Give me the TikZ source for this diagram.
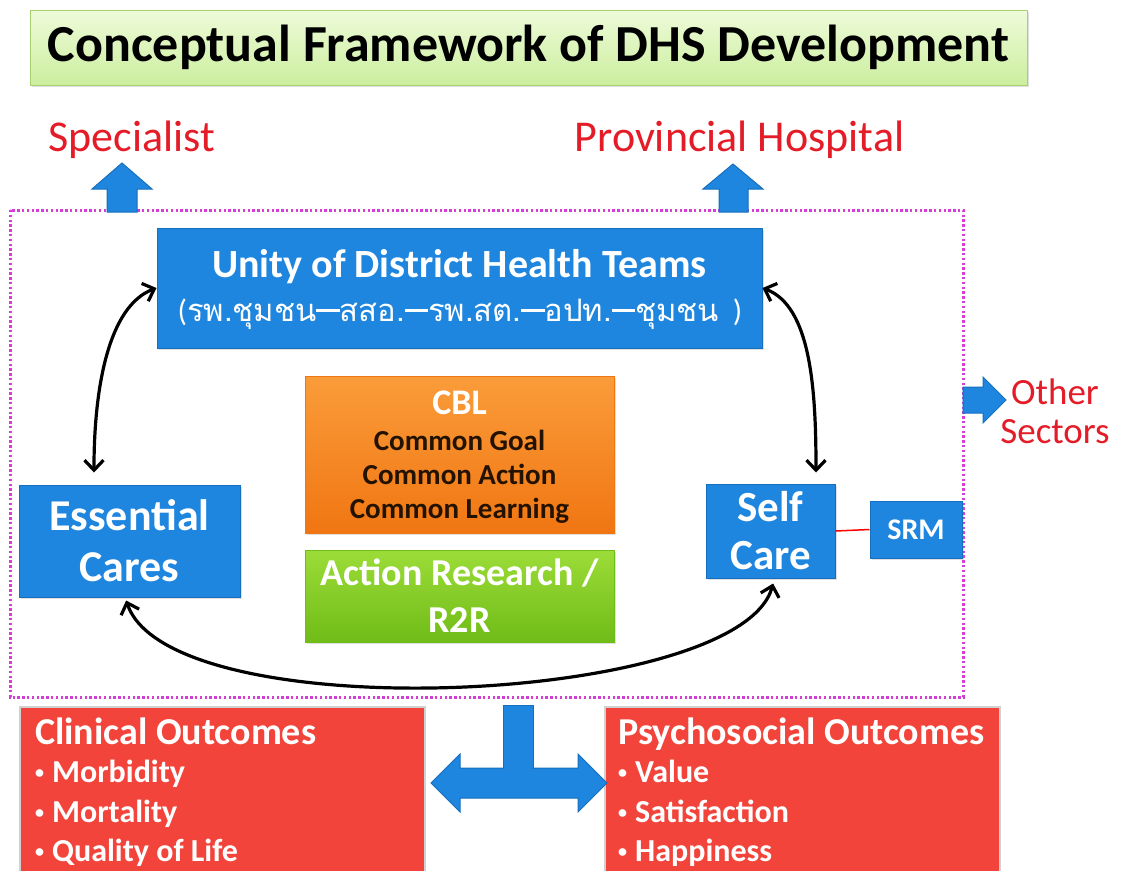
\documentclass[tikz,border=0pt]{standalone}
\usepackage{fontspec}
\setmainfont{Carlito}
\newfontfamily\thaifont[Script=Thai]{Loma}
\usetikzlibrary{arrows.meta,shadows,calc}

\definecolor{boxblue}{RGB}{30,134,222}
\definecolor{edgeblue}{RGB}{22,110,190}
\definecolor{outred}{RGB}{242,68,58}
\definecolor{labelred}{RGB}{228,28,40}
\definecolor{framemag}{RGB}{214,60,214}
\definecolor{titletop}{RGB}{238,251,218}
\definecolor{titlebot}{RGB}{204,238,158}
\definecolor{titleedge}{RGB}{168,208,110}
\definecolor{cbltop}{RGB}{250,156,58}
\definecolor{cblbot}{RGB}{240,118,18}
\definecolor{artop}{RGB}{156,220,56}
\definecolor{arbot}{RGB}{112,188,24}
\definecolor{cbltext}{RGB}{35,18,0}

\newcommand{\fs}[1]{\fontsize{#1}{1.2\dimexpr#1pt\relax}\selectfont}
% small list bullet
\newcommand{\blt}{\raisebox{0.12em}{\fontsize{18}{18}\selectfont\textbullet}\hspace{8pt}}
% long bar between Thai units
\newcommand{\thbar}{\rule[0.3em]{0.75em}{2.6pt}}

\tikzset{
  bluebox/.style={draw=edgeblue, line width=1pt, fill=boxblue, text=white,
    font=\bfseries, align=center, inner sep=0pt,
    drop shadow={opacity=0.25, shadow xshift=2pt, shadow yshift=-2pt}},
  outbox/.style={draw=black!18, line width=2pt, fill=outred, inner sep=0pt},
  blockarrow/.style={fill=boxblue, draw=edgeblue, line width=1pt},
  conn/.style={line width=3.2pt, {Straight Barb[length=10pt,width=19pt,line width=3.2pt]}-{Straight Barb[length=10pt,width=19pt,line width=3.2pt]}},
  redlabel/.style={text=labelred, font=\fs{44}, inner sep=0pt},
  outtitle/.style={text=white, font=\bfseries\fs{38}, anchor=base west, inner sep=0pt},
  outlist/.style={text=white, font=\bfseries\fontsize{32}{39.5}\selectfont, anchor=north west, align=left, inner sep=0pt}
}

\begin{document}
\begin{tikzpicture}[x=1pt, y=-1pt]
\useasboundingbox (0,0) rectangle (1135,870);

% title banner
\node[draw=titleedge, line width=1pt, top color=titletop, bottom color=titlebot,
      minimum width=997pt, minimum height=75pt, inner sep=0pt,
      drop shadow={opacity=0.25, shadow xshift=2pt, shadow yshift=-2pt},
      font=\bfseries\fs{52}] (title) at (528.5,47.5)
      {Conceptual Framework of DHS Development};

% outer labels
\node[redlabel] (spec) at (132,140) {Specialist};
\node[redlabel] (prov) at (739.5,140) {Provincial Hospital};
\node[redlabel, font=\fs{37}, align=center] (other) at (1055,411)
      {Other\\[-5pt]Sectors};

% district boundary
\draw[framemag, line width=3pt, dash pattern=on 2.4pt off 2.4pt] (10,210) rectangle (963,697);

% block arrows leaving the district
\draw[blockarrow] (122,163) -- (152,189) -- (137,189) -- (137,212) -- (107,212)
      -- (107,189) -- (92,189) -- cycle;
\draw[blockarrow] (733,164) -- (763,189) -- (748,189) -- (748,212) -- (719,212)
      -- (719,189) -- (703,189) -- cycle;
\draw[blockarrow] (963,387) -- (983,387) -- (983,377) -- (1006,400) -- (983,423)
      -- (983,413) -- (963,413) -- cycle;

% district team
\node[bluebox, minimum width=605pt, minimum height=120pt] (unity) at (459.5,288) {};
\node[text=white, font=\bfseries\fs{40}, inner sep=0pt] (unityhead) at (459.5,267)
      {Unity of District Health Teams};
\node[text=white, font=\fs{31}, inner sep=0pt] (unitysub) at (460,314)
      {({\thaifont รพ.ชุมชน}\thbar{\thaifont สสอ.}\thbar{\thaifont รพ.สต.}\thbar{\thaifont อปท.}\thbar{\thaifont ชุมชน}\ \ )};

% CBL and research blocks
\node[draw=cblbot, top color=cbltop, bottom color=cblbot, minimum width=309pt,
      minimum height=157pt, inner sep=0pt,
      drop shadow={opacity=0.25, shadow xshift=2pt, shadow yshift=-2pt}] (cbl) at (459.5,454.5) {};
\node[text=white, font=\bfseries\fs{36}, inner sep=0pt] (cblhead) at (459.5,403) {CBL};
\node[text=cbltext, font=\bfseries\fontsize{29}{34}\selectfont, align=center, inner sep=0pt]
      (cblbody) at (459.5,477) {Common Goal\\Common Action\\Common Learning};

\node[draw=arbot, top color=artop, bottom color=arbot, minimum width=309pt,
      minimum height=92pt, inner sep=0pt, text=white, align=center,
      font=\bfseries\fontsize{38}{47}\selectfont,
      drop shadow={opacity=0.25, shadow xshift=2pt, shadow yshift=-2pt}] (ar) at (459.5,596)
      {Action Research /\\R2R};

% care nodes
\node[bluebox, minimum width=221pt, minimum height=112pt,
      font=\bfseries\fontsize{44}{51}\selectfont] (ess) at (129.5,541) {Essential\\Cares};
\node[bluebox, minimum width=129pt, minimum height=94pt,
      font=\bfseries\fontsize{43}{48}\selectfont] (self) at (770.5,531) {Self\\Care};
\node[bluebox, minimum width=92pt, minimum height=57pt,
      font=\bfseries\fs{30}] (srm) at (916,529.5) {SRM};
\draw[red, line width=1.5pt] (self.east) -- (srm.west);

% connector end points on the care boxes
\coordinate (esstop) at ($(ess.north west)!0.34!(ess.north east)+(0,-12)$);
\coordinate (essbot) at ($(ess.south west)!0.485!(ess.south east)+(0,3)$);
\coordinate (selftop) at ($(self.north west)!0.85!(self.north east)+(0,-11)$);
\coordinate (selfbot) at ($(self.south west)!0.52!(self.south east)+(0,5)$);

\draw[conn] (unity.west) .. controls +(-48,18) and +(0,-85) .. (esstop);
\draw[conn] (unity.east) .. controls +(48,18) and +(0,-85) .. (selftop);
\draw[conn] (essbot) .. controls +(44,130) and +(-33,122) .. (selfbot);

% outcomes
\node[outbox, minimum width=405pt, minimum height=168pt] (clin) at (222.5,791) {};
\node[outtitle] (clinhead) at (35,744) {Clinical Outcomes};
\node[outlist] (clinlist) at (35,760)
      {\blt Morbidity\\\blt Mortality\\\blt Quality of Life};

\node[outbox, minimum width=395pt, minimum height=168pt] (psy) at (802.5,791) {};
\node[outtitle] (psyhead) at (618,744) {Psychosocial Outcomes};
\node[outlist] (psylist) at (618,760)
      {\blt Value\\\blt Satisfaction\\\blt Happiness};

% link between the district and both outcomes
\draw[blockarrow] (503,705) rectangle (533,770);
\draw[blockarrow] (431,783) -- (460,754) -- (460,768) -- (578,768) -- (578,754)
      -- (607,783) -- (578,812) -- (578,798) -- (460,798) -- (460,812) -- cycle;
\fill[boxblue] (504,767) rectangle (532,770);
\end{tikzpicture}
\end{document}
